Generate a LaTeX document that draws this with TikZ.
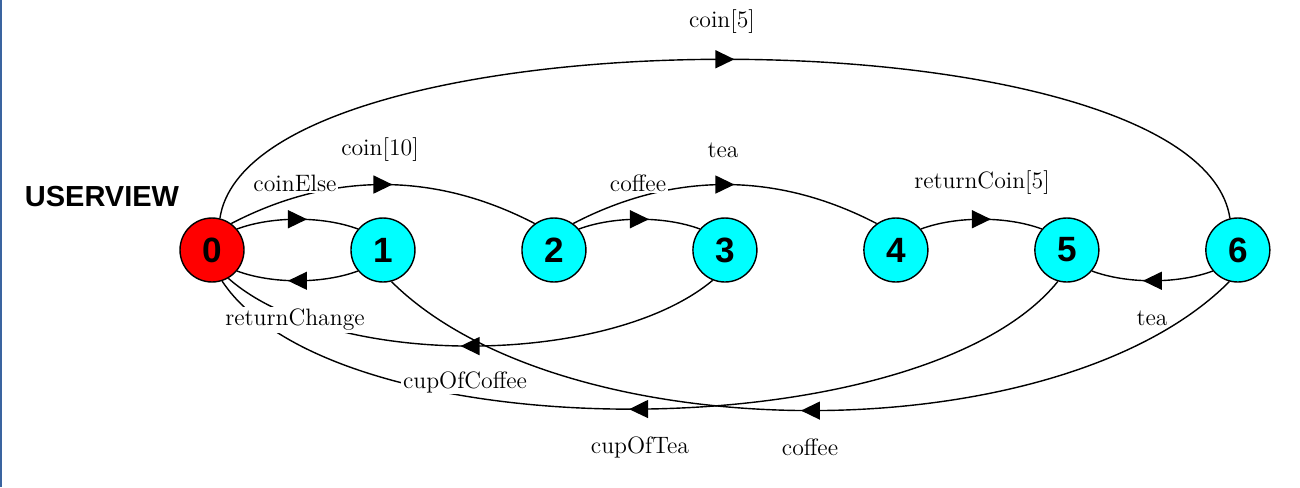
\documentclass[tikz,border=0pt]{standalone}
\usepackage{fontspec}
\usepackage{tikz}
\usetikzlibrary{positioning, arrows.meta, decorations.markings}
\newfontfamily\sansbold{Liberation Sans}
\definecolor{startred}{HTML}{FF0000}
\definecolor{statecyan}{HTML}{00FFFF}
\definecolor{frameblue}{HTML}{3A64A0}
\tikzset{
  state/.style = {circle, draw=black, line width=0.8pt, fill=statecyan,
                  minimum size=1.28cm, inner sep=0pt,
                  font=\sansbold\bfseries\fontsize{20}{20}\selectfont},
  start/.style = {state, fill=startred},
  lbl/.style   = {fill=white, inner sep=1pt, font=\fontsize{13.5}{16}\selectfont},
  title/.style = {font=\sansbold\bfseries\fontsize{16.5}{18}\selectfont},
  trans/.style = {line width=0.8pt, draw=black, postaction={decorate},
                  decoration={markings, mark=at position 0.5 with
                    {\arrow[xshift=0.19cm]{Triangle[length=0.38cm,width=0.36cm]}}}},
}

\begin{document}
\begin{tikzpicture}[x=0.02cm, y=-0.02cm, node distance=2.112cm]
  \useasboundingbox (0,0) rectangle (1300,487);
  \draw[frameblue, line width=0.04cm] (1,0) -- (1,487);

  \node[title] (view) at (102,197) {USERVIEW};

  % States
  \node[start] (q0) at (212,250) {0};
  \node[state, right=of q0] (q1) {1};
  \node[state, right=of q1] (q2) {2};
  \node[state, right=of q2] (q3) {3};
  \node[state, right=of q3] (q4) {4};
  \node[state, right=of q4] (q5) {5};
  \node[state, right=of q5] (q6) {6};

  % Upper transitions
  \draw[trans] (q0.76) .. controls +(32,-212) and +(-32,-212) .. (q6.104);
  \node[lbl] (lCoinFive) at (722,22) {coin[5]};
  \draw[trans] (q0.54) .. controls +(100,-52) and +(-100,-52) .. (q2.126);
  \node[lbl] (lCoinTen) at (380,150) {coin[10]};
  \draw[trans] (q2.54) .. controls +(100,-52) and +(-100,-52) .. (q4.126);
  \node[lbl] (lTea) at (723,150) {tea};
  \draw[trans] (q4.40) .. controls +(35,-13) and +(-35,-13) .. (q5.140);
  \node[lbl] (lReturnCoin) at (982,183) {returnCoin[5]};
  \draw[trans] (q6.220) .. controls +(-35,13) and +(35,13) .. (q5.320);
  \node[lbl] (lTeaBack) at (1152,318) {tea};

  % Lower transitions
  \draw[trans] (q5.254) .. controls +(-137,170) and +(113,171) .. (q0.288);
  \node[lbl] (lCupTea) at (640,447) {cupOfTea};
  \draw[trans] (q6.255) .. controls +(-171,172) and +(173,172) .. (q1.285);
  \node[lbl] (lCoffeeBack) at (810,447) {coffee};
  \draw[trans] (q3.248) .. controls +(-104,87) and +(103,91) .. (q0.300);
  \node[lbl] (lCupCoffee) at (465,382) {cupOfCoffee};
  \draw[trans] (q1.220) .. controls +(-35,13) and +(35,13) .. (q0.320);
  \node[lbl] (lReturnChange) at (295,320) {returnChange};

  % Short hops
  \draw[trans] (q0.40) .. controls +(35,-13) and +(-35,-13) .. (q1.140);
  \node[lbl] (lCoinElse) at (295,183) {coinElse};
  \draw[trans] (q2.40) .. controls +(35,-13) and +(-35,-13) .. (q3.140);
  \node[lbl] (lCoffee) at (638,183) {coffee};

\end{tikzpicture}
\end{document}
